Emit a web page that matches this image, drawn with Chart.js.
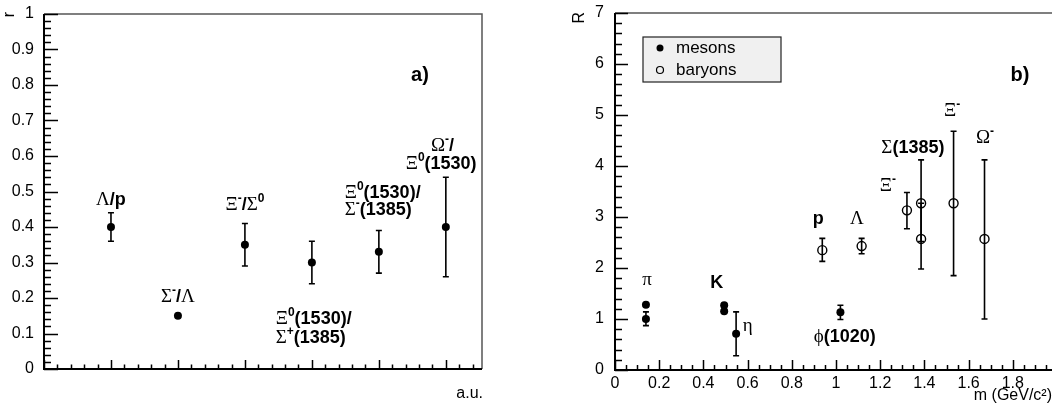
<!DOCTYPE html>
<html>
<head>
<meta charset="utf-8">
<script src="https://cdn.jsdelivr.net/npm/chart.js@4"></script>
<style>
  html, body { margin: 0; padding: 0; background: #fff; overflow: hidden; }
  #wrap { position: relative; width: 1052px; height: 403px; overflow: hidden; background: #fff; }
  #c1 { position: absolute; left: 0; top: 0; }
  #c2 { position: absolute; left: 500px; top: 0; }
</style>
</head>
<body>
<div id="wrap">
  <canvas id="c1" width="500" height="403"></canvas>
  <canvas id="c2" width="570" height="403"></canvas>
</div>
<script>
// ---- panel a) particle ratios r (x in arbitrary units) ----
const ratioX = [1, 2, 3, 4, 5, 6];
const ratioY = [0.40, 0.15, 0.35, 0.30, 0.33, 0.40];
const ratioErr = [0.04, 0, 0.06, 0.06, 0.06, 0.14];

// ---- panel b) R vs mass ----
const mesonMass = [0.140, 0.140, 0.494, 0.494, 0.548, 1.020];
const mesonR    = [1.00, 1.28, 1.15, 1.27, 0.71, 1.13];
const mesonLo   = [0.13, 0, 0, 0, 0.43, 0.14];
const mesonHi   = [0.14, 0, 0, 0, 0.43, 0.14];

const baryonMass = [0.938, 1.116, 1.321, 1.385, 1.385, 1.532, 1.672];
const baryonR    = [2.35, 2.43, 3.13, 3.27, 2.57, 3.27, 2.57];
const baryonLo   = [0.22, 0.15, 0.36, 0.75, 0.59, 1.42, 1.57];
const baryonHi   = [0.23, 0.15, 0.35, 0.85, 0.70, 1.41, 1.55];

// text annotations: text, x, y (data units), alignment
const ratioLabels = [
  { t: 'Λ/p', x: 1.0, y: 0.48 },
  { t: 'Σ^-/Λ', x: 2.0, y: 0.205 },
  { t: 'Ξ^-/Σ^0', x: 3.0, y: 0.465 },
  { t: 'Ξ^0(1530)/', x: 3.46, y: 0.145, a: 'left' },
  { t: 'Σ^+(1385)', x: 3.46, y: 0.091, a: 'left' },
  { t: 'Ξ^0(1530)/', x: 4.49, y: 0.50, a: 'left' },
  { t: 'Σ^-(1385)', x: 4.49, y: 0.451, a: 'left' },
  { t: 'Ω^-/', x: 5.95, y: 0.63 },
  { t: 'Ξ^0(1530)', x: 5.93, y: 0.579 }
];
const massLabels = [
  { t: 'π', x: 0.145, y: 1.78 },
  { t: 'K', x: 0.46, y: 1.73 },
  { t: 'η', x: 0.60, y: 0.88 },
  { t: 'ϕ(1020)', x: 1.04, y: 0.67 },
  { t: 'p', x: 0.92, y: 2.98 },
  { t: 'Λ', x: 1.095, y: 2.98 },
  { t: 'Ξ^-', x: 1.235, y: 3.63 },
  { t: 'Σ(1385)', x: 1.348, y: 4.37 },
  { t: 'Ξ^-', x: 1.525, y: 5.10 },
  { t: 'Ω^-', x: 1.674, y: 4.57 }
];

const SANS = '"Liberation Sans", Arial, sans-serif';
const SERIF = '"Liberation Serif", "Times New Roman", serif';

function pts(xs, ys) { return xs.map((x, i) => ({ x: x, y: ys[i] })); }
function fmt(v) { return String(+v.toFixed(2)); }

// draw text with greek letters in serif and ^x superscripts
function drawRich(ctx, text, x, y, align) {
  const runs = [];
  for (let i = 0; i < text.length; i++) {
    const ch = text[i];
    if (ch === '^') { runs.push({ t: text[i + 1], f: 'bold 12px ' + SANS, dy: -8 }); i++; continue; }
    if (/[\u0370-\u03FF]/.test(ch)) runs.push({ t: ch, f: '19px ' + SERIF, dy: 0 });
    else runs.push({ t: ch, f: 'bold 18px ' + SANS, dy: 0 });
  }
  let w = 0;
  runs.forEach(r => { ctx.font = r.f; r.w = ctx.measureText(r.t).width; w += r.w; });
  let cx = align === 'left' ? x : x - w / 2;
  ctx.textAlign = 'left';
  ctx.textBaseline = 'alphabetic';
  ctx.fillStyle = '#000';
  runs.forEach(r => { ctx.font = r.f; ctx.fillText(r.t, cx, y + 6 + r.dy); cx += r.w; });
}

// ROOT-like frame, inward ticks, error bars and annotations
const rootStyle = {
  id: 'rootStyle',
  beforeDatasetsDraw(chart, args, o) {
    const ctx = chart.ctx, xs = chart.scales.x, ys = chart.scales.y;
    ctx.save();
    ctx.strokeStyle = '#000';
    ctx.lineWidth = 1.6;
    chart.data.datasets.forEach(ds => {
      if (!ds.errLo) return;
      ds.data.forEach((p, i) => {
        const lo = ds.errLo[i], hi = ds.errHi[i];
        if (!lo && !hi) return;
        const px = xs.getPixelForValue(p.x);
        const y1 = ys.getPixelForValue(p.y + hi), y2 = ys.getPixelForValue(p.y - lo);
        ctx.beginPath();
        ctx.moveTo(px, y1); ctx.lineTo(px, y2);
        ctx.moveTo(px - 3, y1); ctx.lineTo(px + 3, y1);
        ctx.moveTo(px - 3, y2); ctx.lineTo(px + 3, y2);
        ctx.stroke();
      });
    });
    ctx.restore();
  },
  afterDraw(chart, args, o) {
    const ctx = chart.ctx, a = chart.chartArea, xs = chart.scales.x, ys = chart.scales.y;
    ctx.save();
    // frame top/right
    ctx.strokeStyle = '#555';
    ctx.lineWidth = 1.5;
    ctx.beginPath();
    ctx.moveTo(a.left, a.top); ctx.lineTo(a.right, a.top); ctx.lineTo(a.right, a.bottom);
    ctx.stroke();
    // axes
    ctx.strokeStyle = '#000';
    ctx.lineWidth = 2;
    ctx.beginPath();
    ctx.moveTo(a.left, a.top); ctx.lineTo(a.left, a.bottom); ctx.lineTo(a.right, a.bottom);
    ctx.stroke();
    ctx.lineWidth = 1.5;
    ctx.beginPath();
    const nY = Math.round((ys.max - ys.min) / o.yMinor);
    for (let k = 0; k <= nY; k++) {
      const v = ys.min + k * o.yMinor;
      const major = Math.abs(v / o.yMajor - Math.round(v / o.yMajor)) < 1e-6;
      const py = Math.round(ys.getPixelForValue(v)) + 0.5;
      ctx.moveTo(a.left, py); ctx.lineTo(a.left + (major ? o.yLen[0] : o.yLen[1]), py);
    }
    const nX = Math.floor((xs.max - xs.min) / o.xMinor + 1e-6);
    for (let k = 0; k <= nX; k++) {
      const v = xs.min + k * o.xMinor;
      const major = Math.abs(v / o.xMajor - Math.round(v / o.xMajor)) < 1e-6;
      const px = Math.round(xs.getPixelForValue(v)) + 0.5;
      ctx.moveTo(px, a.bottom); ctx.lineTo(px, a.bottom - (major ? o.xLen[0] : o.xLen[1]));
    }
    ctx.stroke();
    // annotations
    o.labels.forEach(l => drawRich(ctx, l.t, xs.getPixelForValue(l.x), ys.getPixelForValue(l.y), l.a));
    // panel tag
    ctx.font = 'bold 20px ' + SANS;
    ctx.textAlign = 'center';
    ctx.textBaseline = 'middle';
    ctx.fillText(o.tag, o.tagPos[0], o.tagPos[1]);
    // axis titles
    ctx.font = '16px ' + SANS;
    ctx.textAlign = 'right';
    ctx.textBaseline = 'alphabetic';
    ctx.fillText(o.xTitle, o.xTitlePos[0], o.xTitlePos[1]);
    ctx.save();
    ctx.translate(o.yTitlePos[0], o.yTitlePos[1]);
    ctx.rotate(-Math.PI / 2);
    ctx.textAlign = 'right';
    ctx.textBaseline = 'middle';
    ctx.fillText(o.yTitle, 0, 0);
    ctx.restore();
    // legend box
    if (o.legend) {
      const L = o.legend;
      ctx.fillStyle = '#f0f0f0';
      ctx.fillRect(L.x, L.y, L.w, L.h);
      ctx.strokeStyle = '#222';
      ctx.lineWidth = 1.2;
      ctx.strokeRect(L.x, L.y, L.w, L.h);
      chart.data.datasets.forEach((ds, i) => {
        const cy = L.y + 11 + i * 22;
        ctx.beginPath();
        ctx.arc(L.x + 17, cy, 3.5, 0, Math.PI * 2);
        if (ds.filled) { ctx.fillStyle = '#000'; ctx.fill(); }
        else { ctx.strokeStyle = '#000'; ctx.lineWidth = 1.2; ctx.stroke(); }
        ctx.fillStyle = '#000';
        ctx.font = '17px ' + SANS;
        ctx.textAlign = 'left';
        ctx.textBaseline = 'middle';
        ctx.fillText(ds.label, L.x + 33, cy);
      });
    }
    ctx.restore();
  }
};

const tickFont = { family: SANS, size: 16 };

new Chart(document.getElementById('c1'), {
  type: 'scatter',
  data: {
    datasets: [{
      label: 'r', data: pts(ratioX, ratioY), errLo: ratioErr, errHi: ratioErr,
      pointRadius: 4, backgroundColor: '#000', borderColor: '#000', borderWidth: 0
    }]
  },
  options: {
    responsive: false, animation: false, events: [],
    layout: { padding: { top: 14, right: 18, left: 0, bottom: 0 } },
    plugins: {
      legend: { display: false }, tooltip: { enabled: false },
      rootStyle: {
        xMajor: 1, xMinor: 0.2, yMajor: 0.1, yMinor: 0.02, xLen: [9, 4.5], yLen: [14, 7],
        labels: ratioLabels, tag: 'a)', tagPos: [420, 75],
        xTitle: 'a.u.', xTitlePos: [483, 398], yTitle: 'r', yTitlePos: [10, 12]
      }
    },
    scales: {
      x: {
        type: 'linear', min: 0, max: 6.54,
        grid: { display: false }, border: { display: false }, ticks: { display: false },
        afterFit(s) { s.height = 34; s.paddingLeft = 0; s.paddingRight = 0; }
      },
      y: {
        min: 0, max: 1,
        grid: { display: false }, border: { display: false },
        ticks: { stepSize: 0.1, padding: 2, color: '#000', font: tickFont, callback: fmt },
        afterFit(s) { s.width = 44; s.paddingTop = 0; s.paddingBottom = 0; }
      }
    }
  },
  plugins: [rootStyle]
});

new Chart(document.getElementById('c2'), {
  type: 'scatter',
  data: {
    datasets: [
      {
        label: 'mesons', filled: true, data: pts(mesonMass, mesonR), errLo: mesonLo, errHi: mesonHi,
        pointRadius: 4, backgroundColor: '#000', borderColor: '#000', borderWidth: 0
      },
      {
        label: 'baryons', filled: false, data: pts(baryonMass, baryonR), errLo: baryonLo, errHi: baryonHi,
        pointRadius: 4.5, backgroundColor: 'rgba(0,0,0,0)', borderColor: '#000', borderWidth: 1.4
      }
    ]
  },
  options: {
    responsive: false, animation: false, events: [],
    layout: { padding: { top: 13, right: 13, left: 0, bottom: 0 } },
    plugins: {
      legend: { display: false }, tooltip: { enabled: false },
      rootStyle: {
        xMajor: 0.2, xMinor: 0.05, yMajor: 1, yMinor: 0.2, xLen: [10, 5], yLen: [13, 7],
        labels: massLabels, tag: 'b)', tagPos: [520, 75],
        xTitle: 'm (GeV/c²)', xTitlePos: [552, 400], yTitle: 'R', yTitlePos: [80, 12],
        legend: { x: 143, y: 37, w: 138, h: 45 }
      }
    },
    scales: {
      x: {
        type: 'linear', min: 0, max: 2,
        grid: { display: false }, border: { display: false },
        ticks: { stepSize: 0.2, padding: -4, color: '#000', font: tickFont, callback: fmt, maxRotation: 0, autoSkip: false },
        afterFit(s) { s.height = 33; s.paddingLeft = 0; s.paddingRight = 0; }
      },
      y: {
        min: 0, max: 7,
        grid: { display: false }, border: { display: false },
        ticks: { stepSize: 1, padding: 3, color: '#000', font: tickFont, callback: fmt },
        afterFit(s) { s.width = 115; s.paddingTop = 0; s.paddingBottom = 0; }
      }
    }
  },
  plugins: [rootStyle]
});
</script>
</body>
</html>
